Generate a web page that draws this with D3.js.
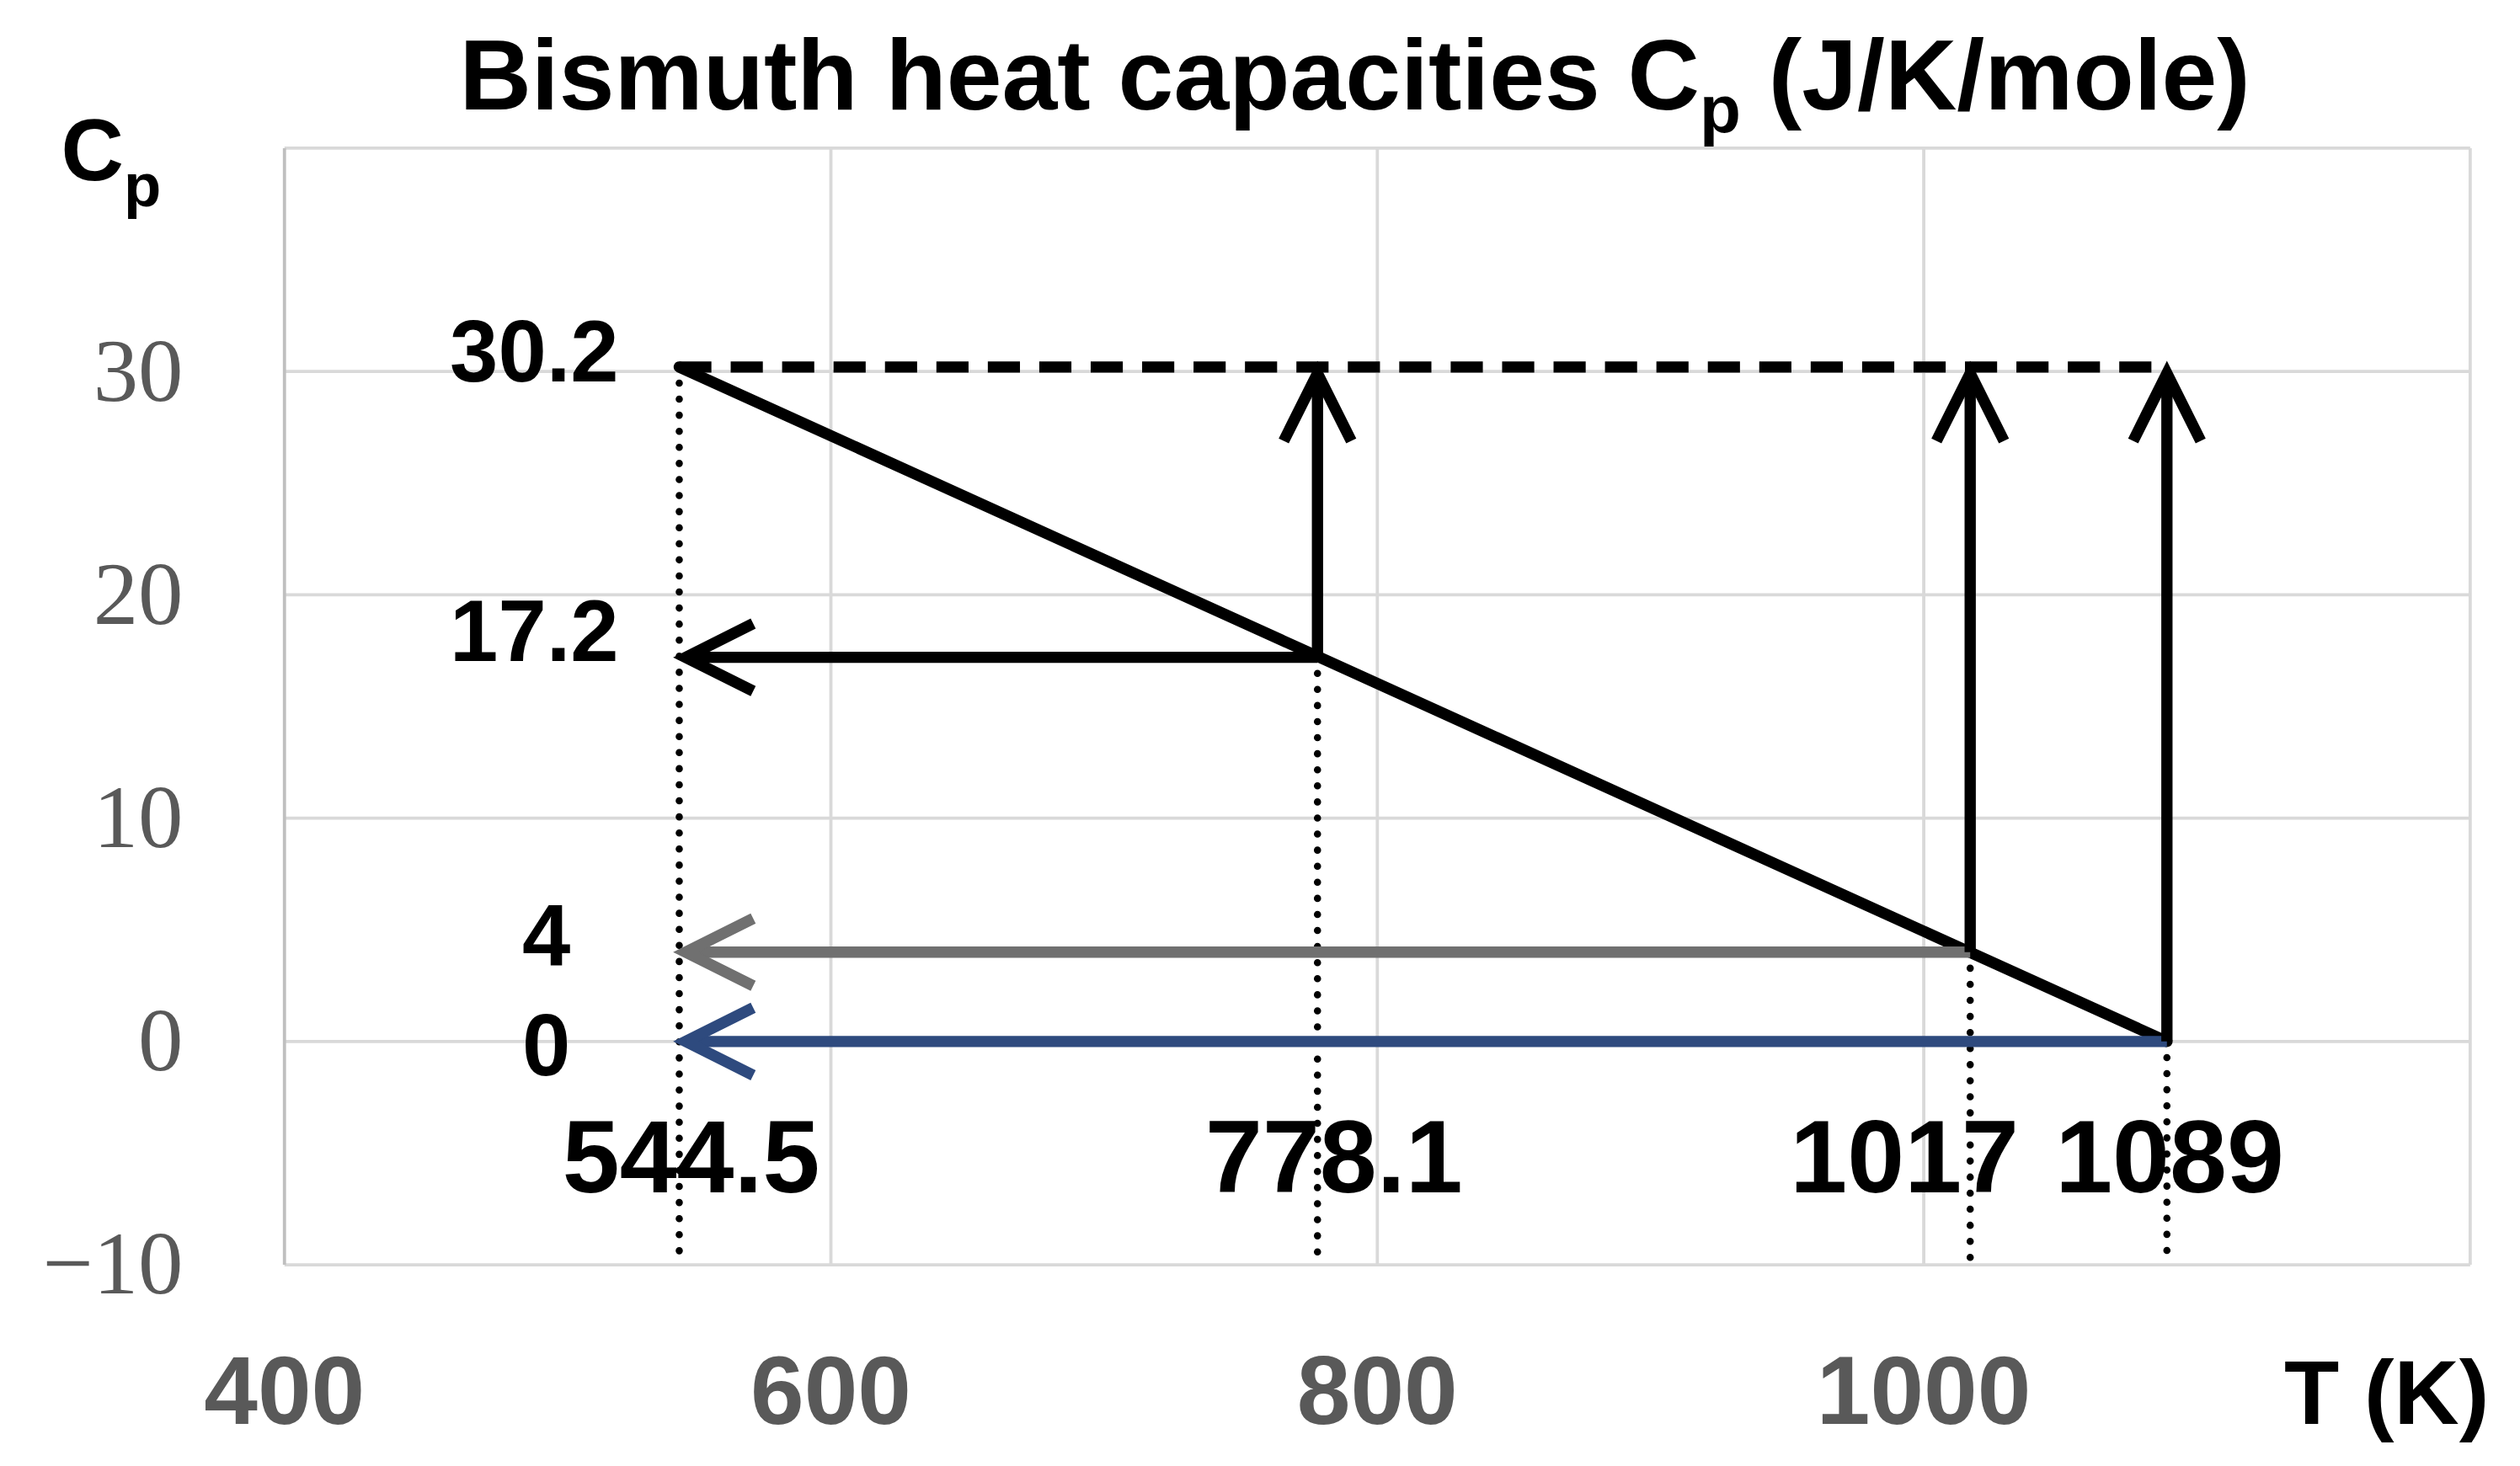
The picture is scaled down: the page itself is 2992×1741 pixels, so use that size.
<!DOCTYPE html><html><head><meta charset="utf-8"><script src="https://cdn.jsdelivr.net/npm/d3@7"></script>
<style>body{margin:0;background:#fff}</style></head><body><svg id="c"></svg><script>
const xTicks=[400,600,800,1000];
const yTicks=[-10,0,10,20,30];
const keyT=[544.5,778.1,1017,1089];
const keyTLabels=["544.5","778.1","1017","1089"];
const cpTop=30.2;
const diag=[[544.5,30.2],[1089,0]];
const vArrows=[[778.1,17.2],[1017,4],[1089,0]];
const hArrows=[{from:778.1,y:17.2,c:"#000"},{from:1017,y:4,c:"#707070"},{from:1089,y:0,c:"#2e4a7e"}];
const cpLabels=[{v:30.2,t:"30.2",y:218},{v:17.2,t:"17.2",y:392},{v:4,t:"4",y:582},{v:0,t:"0",y:650}];

const svg=d3.select("#c").attr("width",2992).attr("height",1741).attr("viewBox","0 0 1568 912");
const x=d3.scaleLinear().domain([400,1200]).range([177,1537]);
const y=d3.scaleLinear().domain([-10,40]).range([787,92]);
const F="Liberation Sans, Arial, sans-serif";
svg.append("g").selectAll("line").data(d3.range(600,1201,200)).join("line")
 .attr("x1",d=>x(d)).attr("x2",d=>x(d)).attr("y1",y(40)).attr("y2",y(-10)).attr("stroke","#d9d9d9").attr("stroke-width",2);
svg.append("g").selectAll("line").data([-10,0,10,20,30,40]).join("line")
 .attr("x1",x(400)).attr("x2",x(1200)).attr("y1",d=>y(d)).attr("y2",d=>y(d)).attr("stroke","#d9d9d9").attr("stroke-width",2);
svg.append("line").attr("x1",x(400)).attr("x2",x(400)).attr("y1",y(40)).attr("y2",y(-10)).attr("stroke","#bfbfbf").attr("stroke-width",2);
svg.append("g").selectAll("text").data(yTicks).join("text").attr("x",114).attr("y",d=>y(d)+18).attr("text-anchor","end")
 .attr("font-family","Liberation Serif, Times New Roman, serif").attr("font-size",56).attr("fill","#595959").text(d=>d<0?"\u2212"+(-d):d);
svg.append("g").selectAll("text").data(xTicks).join("text").attr("x",d=>x(d)).attr("y",886).attr("text-anchor","middle")
 .attr("font-family",F).attr("font-weight","bold").attr("font-size",60).attr("fill","#595959").text(d=>d);
svg.append("text").attr("x",1485).attr("y",886).attr("text-anchor","middle").attr("font-family",F).attr("font-weight","bold").attr("font-size",56).text("T (K)");
svg.append("text").attr("x",843).attr("y",68).attr("text-anchor","middle").attr("font-family",F).attr("font-weight","bold").attr("font-size",62)
 .html('Bismuth heat capacities C<tspan font-size="42" dy="14">p</tspan><tspan dy="-14"> (J/K/mole)</tspan>');
svg.append("text").attr("x",38).attr("y",112).attr("font-family",F).attr("font-weight","bold").attr("font-size",54)
 .html('C<tspan font-size="38" dy="16">p</tspan>');
svg.append("g").selectAll("line").data(keyT).join("line").attr("x1",d=>x(d)).attr("x2",d=>x(d))
 .attr("y1",(d,i)=>y([30.2,17.2,4,0][i])).attr("y2",y(-9.8)).attr("stroke","#000").attr("stroke-width",4.5)
 .attr("stroke-dasharray","0 10").attr("stroke-linecap","round");
svg.append("line").attr("x1",x(544.5)).attr("x2",x(1089)).attr("y1",y(cpTop)).attr("y2",y(cpTop)).attr("stroke","#000").attr("stroke-width",7).attr("stroke-dasharray","20 12");
svg.append("line").attr("x1",x(diag[0][0])).attr("y1",y(diag[0][1])).attr("x2",x(diag[1][0])).attr("y2",y(diag[1][1])).attr("stroke","#000").attr("stroke-width",7).attr("stroke-linecap","round");
function arrow(x1,y1,x2,y2,c){
 svg.append("line").attr("x1",x1).attr("y1",y1).attr("x2",x2).attr("y2",y2).attr("stroke",c).attr("stroke-width",7);
 const a=Math.atan2(y2-y1,x2-x1),L=42,W=21;
 const bx=x2-L*Math.cos(a),by=y2-L*Math.sin(a),px=-Math.sin(a)*W,py=Math.cos(a)*W;
 svg.append("path").attr("d",`M${bx+px},${by+py}L${x2},${y2}L${bx-px},${by-py}`).attr("fill","none").attr("stroke",c).attr("stroke-width",7).attr("stroke-linejoin","miter");
}
hArrows.forEach(h=>arrow(x(h.from),y(h.y),x(544.5)+4,y(h.y),h.c));
vArrows.forEach(v=>arrow(x(v[0]),y(v[1]),x(v[0]),y(cpTop)+4,"#000"));
svg.append("g").selectAll("text").data(cpLabels).join("text").attr("y",d=>d.y+19).attr("text-anchor","end")
 .attr("font-family",F).attr("font-weight","bold").attr("font-size",54).text(d=>d.t).attr("x",d=>d.t.length<2?355:385);
const xl=[430,830,1185,1350];
svg.append("g").selectAll("text").data(keyTLabels).join("text").attr("x",(d,i)=>xl[i]).attr("y",742).attr("text-anchor","middle")
 .attr("font-family",F).attr("font-weight","bold").attr("font-size",64).text(d=>d);
</script></body></html>
